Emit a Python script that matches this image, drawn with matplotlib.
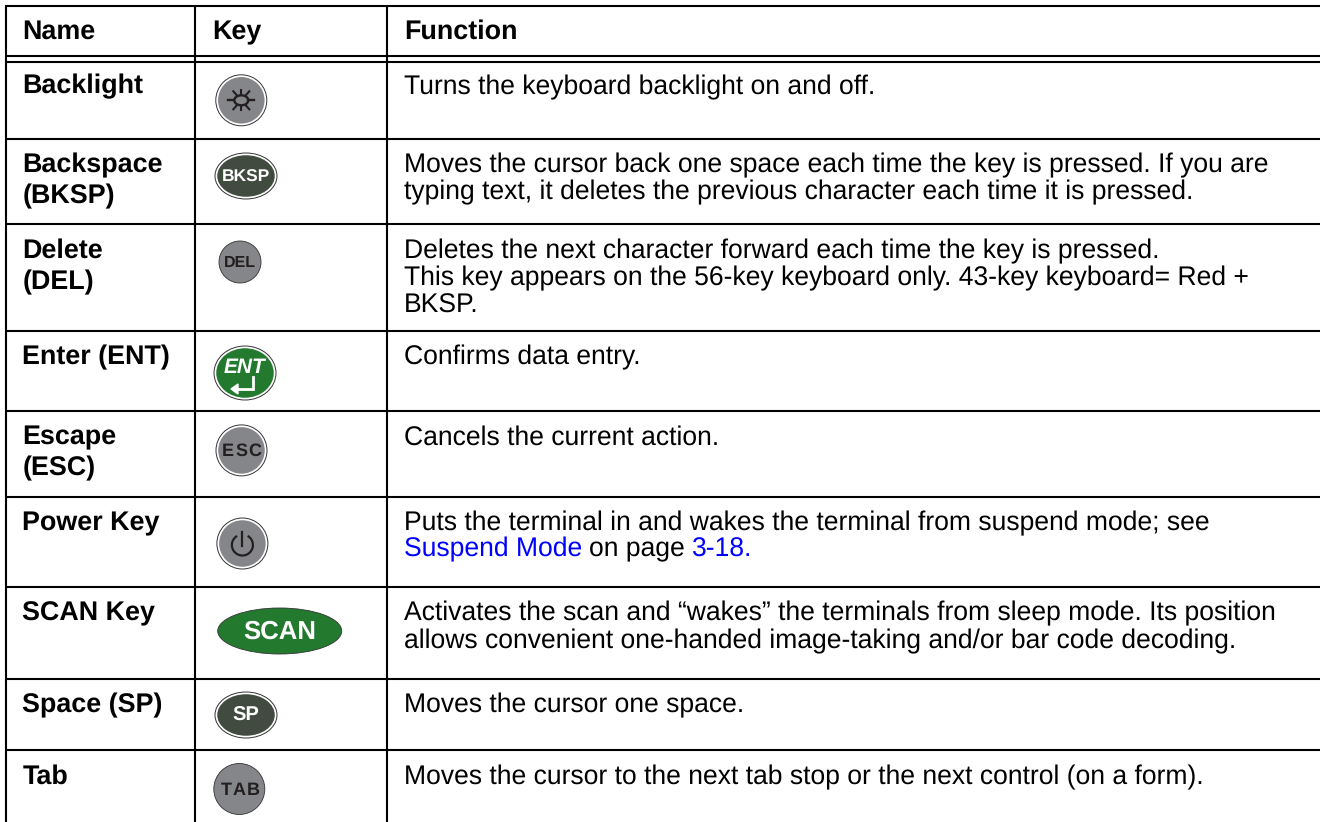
import matplotlib
matplotlib.use('Agg')
import matplotlib.pyplot as plt
from matplotlib.patches import Ellipse, Arc

# Table contents
col_titles = ['Name', 'Key', 'Function']
names = ['Backlight', 'Backspace\n(BKSP)', 'Delete\n(DEL)', 'Enter (ENT)', 'Escape\n(ESC)',
         'Power Key', 'SCAN Key', 'Space (SP)', 'Tab']
functions = [
    'Turns the keyboard backlight on and off.',
    'Moves the cursor back one space each time the key is pressed. If you are\ntyping text, it deletes the previous character each time it is pressed.',
    'Deletes the next character forward each time the key is pressed.\nThis key appears on the 56-key keyboard only. 43-key keyboard= Red +\nBKSP.',
    'Confirms data entry.',
    'Cancels the current action.',
    'Puts the terminal in and wakes the terminal from suspend mode; see',
    'Activates the scan and \u201cwakes\u201d the terminals from sleep mode. Its position\nallows convenient one-handed image-taking and/or bar code decoding.',
    'Moves the cursor one space.',
    'Moves the cursor to the next tab stop or the next control (on a form).',
]
link_parts = ['Suspend Mode', 'on page', '3-18.']
link_cols = ['#0000ff', 'black', '#0000ff']
key_labels = ['', 'BKSP', 'DEL', 'ENT', 'ESC', '', 'SCAN', 'SP', 'TAB']

# Layout in picture pixels
W, H = 1320, 822
col_x = [6, 195, 387]
row_y = [62, 139, 223.7, 331, 411, 497, 586.5, 679, 750]
text_y = [74.2, 152.6, 238.3, 344.5, 425, 510.9, 600.9, 693, 764.2]
key_xy = [(241.3, 100.3), (246, 176), (240, 262), (245, 373), (241.5, 450.4),
          (242.4, 543.5), (279.7, 631), (246, 715), (239.3, 789)]
key_wh = [(51, 51), (62, 46), (42, 42), (62, 54), (51, 51),
          (51, 51), (124, 46), (62, 46), (51, 51)]
key_fill = ['#858689', '#414b3f', '#858689', '#237a2f', '#858689',
            '#858689', '#237a2f', '#414b3f', '#858689']
key_ring = [True, True, False, True, True, True, False, True, False]
key_txt = ['#231f20', 'white', '#231f20', 'white', '#231f20', '#231f20', 'white', 'white', '#231f20']
key_size = [0, 12.5, 11.5, 15, 13, 0, 18.5, 14.5, 13]

plt.rcParams['font.family'] = ['Liberation Sans', 'DejaVu Sans']
plt.rcParams['text.hinting'] = 'no_hinting'
fig = plt.figure(figsize=(W / 100, H / 100), dpi=100)
ax = fig.add_axes([0, 0, 1, 1])
ax.set_xlim(0, W)
ax.set_ylim(H, 0)
ax.axis('off')

lw = 1.5
fs_bold = 19.4
fs = 19.1
# ruling: no right or bottom border in the picture
for x in col_x:
    ax.plot([x, x], [6, H], color='black', lw=lw, solid_capstyle='butt')
for y in [6, 56] + row_y:
    ax.plot([col_x[0] - 1, W], [y, y], color='black', lw=lw, solid_capstyle='butt')

# header
for x, t in zip([22.5, 212, 404], col_titles):
    ax.text(x, 32, t, fontsize=fs_bold, fontweight='bold', va='center', ha='left')

# rows
for i, name in enumerate(names):
    ax.text(22.5, text_y[i], name, fontsize=fs_bold, fontweight='bold', va='top', ha='left', linespacing=1.3)
    ax.text(403.5, text_y[i] + 0.2, functions[i], fontsize=fs, va='top', ha='left', linespacing=1.12)

# link line in the Power Key row
fig.canvas.draw()
rend = fig.canvas.get_renderer()
x = 403.5
for part, col in zip(link_parts, link_cols):
    t = ax.text(x, 537.1, part, fontsize=fs, color=col, va='top', ha='left')
    box = t.get_window_extent(rend)
    x = box.x1 + 7

# key caps
for i, (cx, cy) in enumerate(key_xy):
    w, h = key_wh[i]
    if key_ring[i]:
        ax.add_patch(Ellipse((cx, cy), w, h, fc='white', ec='#333333', lw=0.7))
        ax.add_patch(Ellipse((cx, cy), w - 4.5, h - 4.5, fc=key_fill[i], ec='none'))
    else:
        ax.add_patch(Ellipse((cx, cy), w, h, fc=key_fill[i], ec='#333333', lw=0.6))
    label = key_labels[i]
    if label == 'ENT':
        ax.text(cx - 1, cy - 5, 'ENT', color='white', fontsize=key_size[i], fontweight='bold',
                style='italic', ha='center', va='center')
        ax.plot([cx + 8, cx + 8, cx - 10], [cy + 4, cy + 16, cy + 16], color='white', lw=2.0,
                solid_joinstyle='miter')
        ax.fill([cx - 14, cx - 7, cx - 7], [cy + 16, cy + 11, cy + 21], color='white')
    elif label in ('ESC', 'TAB'):
        # these two are letter spaced on the key
        for j, ch in enumerate(label):
            ax.text(cx + (j - 1) * 13.5, cy + 1, ch, color=key_txt[i], fontsize=key_size[i],
                    fontweight='bold', ha='center', va='center')
    elif label:
        ax.text(cx, cy + 1, label, color=key_txt[i], fontsize=key_size[i], fontweight='bold',
                ha='center', va='center')

# sun glyph on the backlight key
cx, cy = key_xy[0]
ax.add_patch(Ellipse((cx, cy), 14, 10, fc='none', ec='#231f20', lw=1.7))
ax.plot([cx - 13, cx - 7], [cy, cy], color='#231f20', lw=1.7)
ax.plot([cx + 7, cx + 13], [cy, cy], color='#231f20', lw=1.7)
for dx, dy in [(-8, -9), (8, -9), (-8, 9), (8, 9), (0, -10), (0, 10)]:
    ax.plot([cx + dx * 0.55, cx + dx], [cy + dy * 0.55, cy + dy], color='#231f20', lw=1.5)

# power glyph
cx, cy = key_xy[5]
ax.add_patch(Arc((cx, cy + 1.5), 21, 21, theta1=-60, theta2=240, ec='#231f20', lw=1.6))
ax.plot([cx, cx], [cy - 12, cy + 2], color='#231f20', lw=1.6)

fig.savefig('out.png', dpi=100)
